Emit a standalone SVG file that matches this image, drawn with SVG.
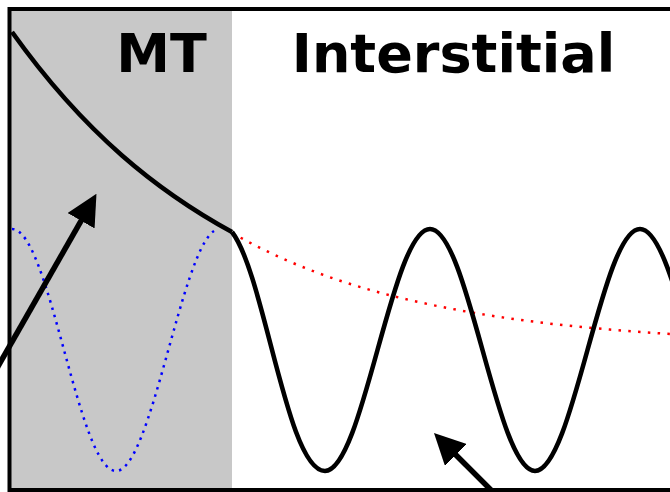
<svg xmlns="http://www.w3.org/2000/svg" width="670" height="492" viewBox="0 0 670 492">
  <style>
    .label { font-family: "DejaVu Sans", "Liberation Sans", sans-serif; font-weight: bold; font-size: 54px; fill: #000; text-anchor: middle; }
    .curve { fill: none; stroke: #000; stroke-width: 4.6; stroke-linejoin: round; }
    .dotted-red { fill: none; stroke: #ff0000; stroke-width: 2.5; stroke-dasharray: 2.5 7.3; }
    .dotted-blue { fill: none; stroke: #0000ff; stroke-width: 2.5; stroke-dasharray: 2.5 5.1; }
    .arrow { fill: none; stroke: #000; stroke-width: 5.5; marker-end: url(#ah); }
  </style>
  <defs>
    <marker id="ah" viewBox="0 0 31 31" refX="1" refY="15.5" markerWidth="31" markerHeight="31" markerUnits="userSpaceOnUse" orient="auto">
      <path d="M0,0 L31,15.5 L0,31 Z" fill="#000"/>
    </marker>
  </defs>
  <rect x="0" y="0" width="670" height="492" fill="#fff"/>
  <g id="mt-region">
    <rect x="10" y="10" width="222" height="480" fill="#c8c8c8"/>
    <text class="label" x="161.5" y="72">MT</text>
  </g>
  <g id="interstitial-region">
    <text class="label" x="453.5" y="72">Interstitial</text>
  </g>
  <g id="curves">
    <path id="blue-wave" class="dotted-blue" d="M12,229 C49.8,229 78.2,471 116,471 C151,471 181,252.8 214,231"/>
    <path id="red-decay" class="dotted-red" d="M232,232.9 C305,274.5 378,294.8 451,308.7 C524,322.6 597,329.3 670,334 L700,336"/>
    <path id="black-decay" class="curve" d="M12,32 C85.3,134.7 158.7,191.8 232,232"/>
    <path id="black-wave" class="curve" d="M232,232 C265,275 287,471 325,471 C363.2,471 391.8,229 430,229 C468.2,229 496.8,471 535,471 C573.2,471 601.8,229 640,229 C678.2,229 706.8,471 745,471"/>
  </g>
  <g id="frame">
    <path d="M690,9 L9.5,9 L9.5,490 L690,490" fill="none" stroke="#000" stroke-width="4"/>
  </g>
  <g id="connectors">
    <line class="arrow" x1="-42.4" y1="437.2" x2="81.6" y2="219.9"/>
    <line class="arrow" x1="520" y1="519" x2="455.2" y2="454.2"/>
  </g>
</svg>
